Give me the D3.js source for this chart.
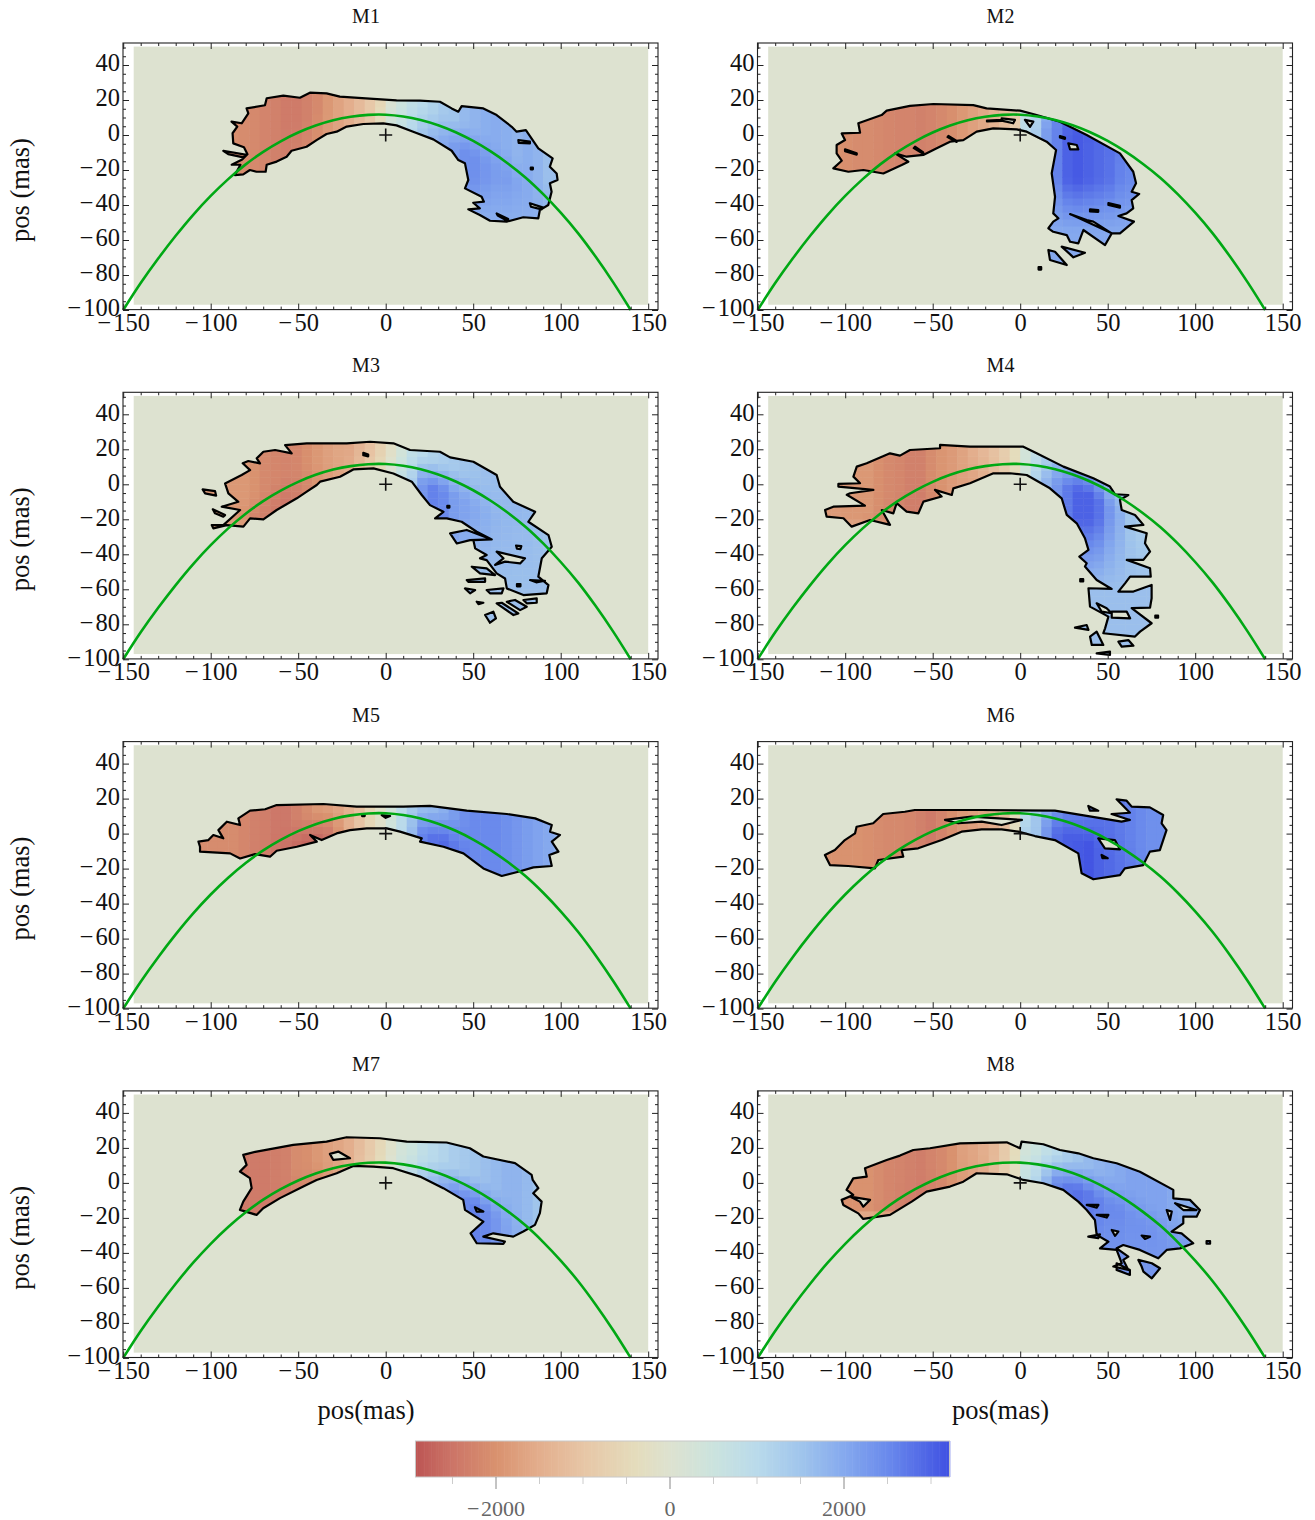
<!DOCTYPE html>
<html><head><meta charset="utf-8">
<script src="https://cdn.jsdelivr.net/npm/d3@7"></script>
<style>html,body{margin:0;padding:0;background:#fff}svg{display:block}text{font-family:"Liberation Serif",serif}</style>
</head><body><div id="chart"></div>
<script>
const PANEL_NAMES=["M1","M2","M3","M4","M5","M6","M7","M8"];
const COL_START=-114, COL_WIDTH=6;
const CURVE_X=[-150,-140,-130,-120,-110,-100,-90,-80,-70,-60,-50,-40,-30,-20,-10,0,10,20,30,40,50,60,70,80,90,100,110,120,130,140];
const CURVE_Y=[-100,-84.6,-70.6,-57.6,-45.6,-34.8,-25.2,-16.8,-9.6,-3.6,1.4,5.4,8.4,10.4,11.5,11.6,10.6,8.6,5.6,1.6,-3.4,-9.4,-16.4,-24.4,-33.8,-44.4,-56.2,-69.6,-84.2,-100];

const M1_OUTLINE=[[-88.1,7.6],[-84.8,4.8],[-87.5,1],[-87.1,-4.8],[-81,-7],[-79,-11],[-82,-14],[-88,-17],[-83,-17],[-86.2,-22.9],[-81.4,-22.5],[-77.6,-20],[-73.8,-21],[-68.6,-21],[-68,-17],[-62.3,-15.2],[-56.6,-12.4],[-53.8,-9],[-45.2,-6.7],[-39.5,-2.9],[-33.8,0.6],[-28,1.9],[-22.3,4.8],[-12.8,6.3],[-1.4,6.6],[6.2,5.5],[15.7,1.9],[27.2,-2.5],[37.7,-9],[41.5,-14.3],[45.3,-16.2],[47.2,-25.7],[45.3,-30.5],[54.8,-35.3],[56.1,-38.1],[50,-38.7],[53.8,-41.9],[47.2,-42.5],[53.8,-45.7],[59.6,-49],[69.1,-49.5],[78.6,-47],[87.2,-47.6],[88.1,-42.9],[92.9,-40],[94.8,-32.4],[93.8,-27.6],[98.2,-25.7],[97.7,-22],[93.8,-18.1],[95.4,-13.4],[87.2,-7.6],[80.1,2.8],[74.8,1.9],[72,4.7],[63.4,11.4],[55.8,15.2],[43.4,16.5],[41.5,13.3],[37.7,15.2],[31,19],[19.6,19.6],[6.2,19.8],[-7.1,20.6],[-26.2,21.9],[-33.8,23.8],[-43.3,24.2],[-49,21.3],[-58.5,22.5],[-68,21],[-69,17],[-79.5,15.2],[-78.5,12.4],[-82.3,6.7]];
const M1_HOLES=[[[-92.8,-9],[-79.5,-11.4],[-81.4,-12.8],[-90,-10.9]],[[75.8,-2.9],[82.4,-3.8],[82.4,-4.8],[76,-4.5]],[[82.4,-39],[90,-41.5],[89,-42.5],[83,-41]],[[63.4,-44.8],[70,-48],[69,-48.8],[64,-46]],[[82.9,-18.6],[84.1,-18.6],[84.1,-19.6],[82.9,-19.6]]];
const M1_UPPER=[-2000,-2000,-2000,-2000,-2050,-2100,-2150,-2250,-2300,-2400,-2400,-2300,-2150,-1900,-1700,-1500,-1250,-950,-550,100,500,800,1000,1200,1400,1500,1700,1800,1900,1950,1900,1800,1900,1800,1600];
const M1_LOWER=[-2000,-2000,-2000,-2000,-2050,-2100,-2150,-2200,-2300,-2350,-2300,-2200,-2050,-1850,-1700,-1500,-1250,-950,-300,400,700,1100,1500,1800,2000,2200,2400,2400,2300,2200,2200,2100,2000,1800,1500];

const M2_OUTLINE=[[-104.9,-5.7],[-100.1,-2.9],[-102,0.9],[-91.5,1.3],[-92.5,6.7],[-79.2,11.4],[-76.3,13.9],[-63,16.6],[-49.6,17.7],[-26.8,17.1],[-19.2,15.2],[-0.1,13.9],[9.4,11.4],[22.7,7.6],[38,0],[57,-10.5],[64.6,-21],[66.2,-27.6],[63.7,-32.4],[68,-33.7],[63.7,-37.2],[64.6,-41.9],[60.8,-44.8],[56.1,-46.3],[65,-49.5],[57,-56.2],[52.3,-56.2],[48.5,-62.9],[36.1,-54.3],[33.2,-61.9],[28.5,-61],[26.6,-57.2],[18.9,-55.3],[16.1,-53.3],[18.9,-49.5],[21.8,-47.6],[18.9,-44.8],[19.9,-35.3],[18,-21.9],[20.5,-8.6],[15.1,-3.8],[3.7,1.9],[-2,3.2],[-15.4,3.8],[-24.9,1.9],[-32.5,-2.9],[-40.1,-3.8],[-47.7,-7.6],[-55.4,-11.4],[-64.9,-12.4],[-71.5,-10.5],[-63.9,-15.3],[-67.7,-17.2],[-78.2,-22],[-89.6,-20],[-98.2,-21],[-106.8,-19.1],[-102,-14.7],[-104.9,-10.5]];
const M2_HOLES=[[[-10.6,9.5],[-3,8.6],[-4,6.7],[-10.6,8.2]],[[-19,8.3],[-10.6,8.7],[-10.6,8.1],[-19,7.8]],[[2.7,8.6],[7.5,7.6],[5.6,4.7]],[[22.7,-0.6],[25.6,-1.5],[25.6,-2.2],[22.7,-1.4]],[[27.5,-4.8],[32.3,-5.7],[33.2,-8.2],[28.5,-8.2]],[[39.9,-42.5],[44.6,-42.9],[44.6,-43.9],[39.9,-43.7]],[[50.4,-38.9],[57,-40.5],[57,-41.5],[50.4,-40]],[[28.5,-45.2],[52.3,-56.2],[41.8,-49.5],[38,-48.6]],[[23.7,-63.8],[37,-67.3],[30.4,-69.9]],[[16.1,-65.7],[19.9,-66.7],[26.6,-74.3],[17,-71.4]],[[10.5,-75.5],[12,-75.5],[12,-76.9],[10.5,-76.9]],[[-100.1,-8.2],[-93.4,-10.4],[-93.4,-11.2],[-100.1,-9.2]],[[-60.1,-6.7],[-55.4,-10],[-55.4,-10.8],[-60.8,-7.5]],[[-41,-0.5],[-36.3,-3.4],[-36.3,-4],[-41.5,-1.2]]];
const M2_UPPER=[-2000,-2000,-2050,-2100,-2100,-2150,-2200,-2250,-2250,-2300,-2250,-2150,-2050,-1900,-1750,-1600,-1400,-1200,-800,600,1000,1800,2500,2800,3000,3100,3000,2900,2800,2600,2500];
const M2_LOWER=[-2000,-2000,-2050,-2100,-2100,-2150,-2200,-2250,-2250,-2300,-2250,-2150,-2050,-1900,-1750,-1600,-1400,-1200,-800,900,1300,2200,2600,3000,3100,3000,2900,2800,2600,2500,2400];

const M3_OUTLINE=[[-91.8,0.5],[-82.3,5.3],[-77.5,8.1],[-81.7,12],[-78.5,13.3],[-71.8,12],[-73.7,14.8],[-69.9,18.6],[-63.2,19.6],[-53.7,17.7],[-57.5,22.4],[-45.1,23.4],[-22.3,23.4],[-8.9,24.3],[4.4,23.4],[13.9,19.6],[31,18.6],[36.8,15.4],[50.1,12.9],[63.4,5.3],[65.3,-1.4],[72.9,-10],[85.4,-15.7],[81.5,-21.4],[93,-29],[94.9,-35.7],[89.2,-42.3],[87.2,-52.8],[93,-57.6],[92,-62.3],[78.7,-63.3],[69.2,-59.5],[68.2,-53.8],[63.4,-50.9],[57.7,-43.3],[53.9,-42.3],[57.7,-40.4],[51.1,-36.6],[50.1,-31.9],[60.6,-31.5],[52,-27.1],[43.4,-21.4],[34.9,-19.5],[28.2,-19.5],[33,-15.7],[25.3,-11.9],[20.6,-6.1],[14.9,1.5],[4.4,6.2],[-7,9.1],[-18.5,8.5],[-26.1,4.3],[-37.5,1.5],[-39.4,-0.4],[-45.1,-4.2],[-50.8,-8],[-62.3,-14.7],[-69.9,-20],[-77.5,-19.5],[-81.3,-24.2],[-90.8,-23.3],[-98.5,-25.2],[-99.4,-23.3],[-92.8,-23.3],[-83.2,-14.7],[-93.7,-12.8],[-84.2,-10],[-89.9,-5.2]];
const M3_HOLES=[[[-104.6,-2.9],[-97.5,-3.9],[-96.9,-6.5],[-103.2,-5.2]],[[-98.8,-14.3],[-91.8,-17.6],[-92.8,-18.5],[-97.5,-16.6]],[[36.8,-28],[46.3,-26.1],[60.6,-31.5],[48.2,-31.9],[40.6,-33.8]],[[-12.8,18],[-10,17],[-10,16],[-12.8,16.6]],[[35.2,-12.3],[36.4,-12.3],[36.4,-13.3],[35.2,-13.3]],[[74.5,-35],[77.5,-35.3],[77,-37],[75,-36.8]],[[63.4,-38.5],[79.6,-42.3],[76.8,-45.2],[68.2,-44.2],[62.5,-46.1],[67.3,-42.3]],[[82.5,-54.7],[91,-55.1],[86,-56]],[[75,-57],[77,-57],[77,-58.3],[75,-58.3]],[[49.2,-47.1],[57.7,-48],[62.5,-51.9],[53.9,-50.9]],[[46.3,-54.7],[56.8,-53.8],[56.8,-55.7],[47.2,-55.7]],[[45.3,-59.5],[51.1,-60.4],[48.2,-62.3]],[[57.7,-60.4],[67.3,-59.5],[66.3,-62.3],[59.6,-62.3]],[[52,-67.1],[55.8,-67.7],[53,-68.5]],[[63.4,-68],[66.3,-67.7],[75.8,-73.8],[73,-74.7]],[[69.2,-67.1],[73.9,-66.1],[80.6,-70],[76.8,-71.9]],[[78.7,-66.1],[86.3,-65.2],[86.3,-67.7],[80.6,-68]],[[56.8,-74.7],[61.5,-72.8],[63,-76.6],[59.6,-79.1]]];
const M3_UPPER=[-1900,-1900,-1900,-1900,-1900,-1900,-2000,-2150,-2200,-2250,-2200,-2050,-1900,-1750,-1650,-1600,-1350,-1100,-700,-200,300,800,1000,1200,1300,1400,1500,1550,1600,1650,1700,1750,1700,1600,1500];
const M3_LOWER=[-1900,-1900,-1900,-1900,-2000,-2100,-2250,-2300,-2400,-2450,-2350,-2200,-2000,-1850,-1700,-1500,-1100,-700,-300,200,800,1300,2300,2600,2500,2200,2100,2000,1900,1800,1750,1700,1700,1600,1500];

const M4_OUTLINE=[[-111.5,-14.7],[-106.8,-12.8],[-88.7,-12.2],[-99.1,-6],[-97.2,-5.1],[-83.9,-3.2],[-103.9,-1.3],[-103.9,0.2],[-91.5,0.6],[-95.3,4.4],[-93.4,10.1],[-87.7,12],[-74.4,17.7],[-68.7,16.4],[-63,19.6],[-45.8,20.6],[-45.8,22.5],[-28.7,21.5],[1.8,21.5],[9.4,17.7],[24.7,10.1],[41.8,3.4],[51.3,-1.3],[54.2,-5.7],[61.8,-6.1],[57,-8.9],[58,-14.7],[65.6,-17.5],[70.4,-23.2],[59.9,-24.2],[72.3,-28],[71.3,-33.7],[74.2,-38.5],[70.4,-43.2],[60.9,-43.2],[74.2,-48],[74.6,-52.8],[62.8,-52.8],[59.9,-56.6],[56.1,-61.3],[64.7,-61.3],[75.1,-57.5],[75.1,-65.1],[74.2,-70.5],[63.7,-70.8],[75.1,-79.4],[68.5,-84.2],[65.6,-87],[47.5,-85.1],[48.5,-82.3],[50.4,-75.6],[39.9,-69.9],[39,-59.4],[52.3,-59.8],[43.7,-54.7],[37,-47],[38,-45.1],[33.8,-41.3],[39,-37.5],[37,-30.8],[32.3,-22.3],[26.6,-17.5],[23.7,-8],[17,-2.3],[3.7,5.3],[-5.8,6.3],[-15.3,6.3],[-28.7,0.6],[-38.2,-2.3],[-39.1,-6.1],[-48.7,-3.2],[-44.9,-7],[-55.3,-9.9],[-58.2,-16.6],[-64.9,-15.6],[-70.6,-10.8],[-72.5,-16.6],[-79.1,-14.7],[-74.4,-23.2],[-85.8,-20.4],[-96.3,-24.2],[-101,-19.4],[-110.6,-18.5]];
const M4_HOLES=[[[39.9,-87],[43.7,-84.2],[47.5,-91.8],[40.9,-91.8]],[[56.1,-89.9],[61.8,-89],[64.7,-92.2],[58,-92.8]],[[31.3,-81.9],[38,-80.4],[39,-83.2]],[[43.7,-96.6],[51.3,-95.6],[51.3,-97.5]],[[77.2,-75],[78.8,-75],[78.8,-76.2],[77.2,-76.2]],[[34.3,-54.2],[36,-54.2],[36,-55.5],[34.3,-55.5]],[[43.7,-68],[49.4,-70.8],[52.3,-73.7],[46.6,-72.8]],[[52.3,-72.8],[60.9,-72.8],[62.8,-76.6],[52.3,-76.2]]];
const M4_UPPER=[-1850,-1850,-1900,-1900,-1900,-2050,-2150,-2200,-2300,-2300,-2100,-1950,-1850,-1700,-1500,-1300,-1100,-800,-400,300,800,1200,1500,1700,1900,2000,1800,1500,1400,1300,1200,1200,1200];
const M4_LOWER=[-1900,-1900,-2000,-2000,-2100,-2150,-2200,-2250,-2350,-2350,-2150,-2000,-1850,-1750,-1700,-1500,-1200,-900,-400,400,1200,1800,2300,2700,3000,3000,2800,2300,1900,1500,1300,1200,1200];

const M5_OUTLINE=[[-107,-4.6],[-101.3,-3.7],[-98.5,-0.8],[-92.8,-2.7],[-95.6,2],[-90.8,6.8],[-83.2,4.9],[-84.2,8.7],[-77.5,13.1],[-68.9,13.9],[-62.3,16.3],[-35.6,16.9],[-16.6,15.4],[10.1,15.4],[25.3,15.8],[46.3,13.1],[69.2,11.2],[85.4,8.7],[94.9,4.9],[93.9,1.1],[99.6,-0.8],[94.9,-4.6],[98.7,-10.3],[93.5,-12.2],[94.9,-18.5],[84.4,-19.3],[75.8,-21.8],[66.3,-24.2],[55.8,-19.9],[44.4,-11.3],[33,-7.5],[19.6,-4.6],[20.6,-2.7],[8.2,1.1],[0.6,3],[-10.8,3],[-20.4,2],[-28,0.1],[-36.6,-3.7],[-43.2,-0.8],[-39.4,-4.6],[-50.8,-7.5],[-62.3,-9.8],[-66.1,-13.2],[-74.7,-11.7],[-83.2,-14.2],[-88.9,-11.3],[-106.1,-10.3],[-106.1,-7.5]];
const M5_HOLES=[[[-2.3,10.6],[2.5,10],[0,9]],[[-13.5,11],[-12,11],[-12,10],[-13.5,10]]];
const M5_UPPER=[-2100,-2100,-2100,-2100,-2100,-2200,-2300,-2350,-2450,-2450,-2300,-2100,-1900,-1750,-1600,-1400,-1200,-700,-200,300,900,1300,1500,1700,1900,2200,2400,2500,2500,2500,2400,2300,2200,2100,2000,1800];
const M5_LOWER=[-2150,-2150,-2150,-2150,-2150,-2350,-2350,-2350,-2500,-2550,-2650,-2700,-2650,-2500,-2000,-1500,-1000,-500,-100,400,1000,1700,2600,2800,2900,2700,2600,2500,2500,2500,2400,2300,2200,2100,2000,1800];

const M6_OUTLINE=[[-111.6,-12.2],[-105.9,-9.4],[-100.2,-3.7],[-94.4,0.1],[-93.5,3.9],[-84,5.9],[-78.3,11.2],[-65.9,12.5],[-60.2,13.5],[-22,13.5],[19.8,13.1],[38.9,10],[57.9,6.8],[62.7,7.8],[52.2,11.2],[62.7,11.9],[55.1,19.6],[60.8,18.8],[63.7,15.4],[74.1,15],[81.7,10.6],[80.8,5.9],[83.6,2],[79.8,-9.4],[74.1,-10.3],[70.3,-18],[59.8,-19.9],[57,-23.7],[41.8,-26.1],[35.1,-22.7],[33.2,-11.3],[19.8,-3.7],[8.4,-1.4],[-1.1,1.1],[-10.6,2.4],[-22,2.4],[-33.5,1.1],[-44.9,-3.7],[-58.3,-8.4],[-67.8,-9.4],[-66.8,-13.2],[-81.1,-15.1],[-83,-19.9],[-98.3,-18.5],[-108.7,-18]];
const M6_HOLES=[[[-43,7.8],[-27.8,9.7],[1,7.8],[-10.6,4.9],[-22,6.8],[-35.4,5.9]],[[44.6,-2.7],[54.1,-3.7],[57,-9],[48.4,-8.4]],[[46.5,-12.2],[50,-14.1],[47,-14]],[[38.9,15.8],[44.6,13.1],[39.8,13.1]]];
const M6_UPPER=[-2000,-2000,-2000,-2000,-2050,-2100,-2150,-2150,-2200,-2300,-2400,-2250,-2050,-1850,-1750,-1650,-1500,-1200,-600,600,1400,1800,2200,2500,2600,2700,2800,2800,2700,2600,2500,2400,2400];
const M6_LOWER=[-2000,-2000,-2000,-2000,-2050,-2100,-2150,-2150,-2200,-2300,-2400,-2250,-2050,-1850,-1750,-1650,-1500,-1200,-300,1200,1500,2300,2900,3050,3100,3150,3000,2900,2800,2700,2600,2500,2400];

const M7_OUTLINE=[[-81.4,16],[-73.8,17.9],[-52.8,21.7],[-33.8,23.6],[-22.3,26.1],[-3.3,25.5],[12,23.6],[34.8,23.1],[48.1,19.8],[55.8,15.1],[73.9,11.3],[83.4,4.6],[84,1.7],[87.2,-3],[84.3,-5.9],[89.1,-10.7],[88.1,-17.3],[85.3,-24],[78.6,-27.8],[72.9,-30.7],[61.5,-28.8],[55.8,-30.7],[68.1,-33.5],[67.2,-34.8],[52,-34.5],[48.5,-28.8],[55.8,-22.1],[45.3,-15.4],[44.3,-9.7],[32.9,-3],[19.6,3.6],[4.3,8.4],[-7.1,9.3],[-18.5,9.7],[-28,5.5],[-39.5,1.7],[-47.1,-2.1],[-60.4,-8.7],[-70,-14.5],[-73.8,-18.3],[-83.3,-15.4],[-81.4,-10.7],[-76.6,-3],[-77.6,2.7],[-83.3,6.5],[-79.5,10.3]];
const M7_HOLES=[[[-31.9,16.6],[-27.1,17.9],[-20.4,14.1],[-30,13.2]],[[51,-13.9],[55.8,-16.4],[52,-16.4]]];
const M7_UPPER=[-2400,-2400,-2400,-2400,-2400,-2400,-2400,-2400,-2350,-2300,-2100,-2050,-1900,-1750,-1650,-1500,-1200,-900,-500,-100,300,500,800,1000,1150,1300,1400,1500,1600,1700,1800,1800,1700,1500,1400];
const M7_LOWER=[-2400,-2400,-2400,-2400,-2400,-2400,-2400,-2400,-2400,-2350,-2300,-2200,-2100,-1900,-1700,-1500,-1000,-700,-300,200,600,1000,1500,1800,2100,2400,2500,2600,2500,2300,2100,1900,1700,1500,1400];

const M8_OUTLINE=[[-102,-9.7],[-95.4,-6.9],[-99.2,-4],[-95.4,2.6],[-87.7,3.6],[-88.7,8.4],[-76.3,13.1],[-68.7,15.6],[-61.1,18.8],[-51.6,19.8],[-34.4,22.6],[-7.7,23.2],[-0.1,19.8],[0.8,23.6],[13.2,22.1],[22.7,18.8],[33.2,16.9],[41.8,14.1],[55.1,11.2],[68.4,6.4],[87.5,-4],[87.5,-8.8],[97,-9.7],[102.7,-15.5],[100.8,-19.3],[93.2,-19.3],[93.2,-23.1],[86.5,-27.9],[92.2,-28.8],[98.9,-34.5],[91.3,-37.4],[83.7,-38.3],[78.9,-43.1],[68.4,-38.3],[58.9,-35.5],[55.1,-37.4],[61.8,-42.1],[58.9,-44],[61.8,-49.7],[53.2,-47.8],[58,-45.9],[55.1,-38.3],[45.6,-37.4],[50.4,-33.6],[43.7,-29.7],[42.7,-21.2],[38,-15.5],[33.2,-10.7],[24.6,-4],[13.2,-0.2],[1.8,1.7],[-7.7,4.9],[-24.9,5.5],[-32.5,0.7],[-40.1,-2.1],[-53.5,-5],[-62,-10.7],[-74.4,-18.3],[-89.7,-20.6],[-92.5,-17.4],[-101.1,-12.6]];
const M8_HOLES=[[[-97.3,-7.8],[-85.8,-9.7],[-89.7,-13.6],[-91.6,-10.7]],[[83.7,-15.5],[86.6,-16.4],[85.6,-21.2]],[[88.5,-11.6],[100.8,-15.5],[93.2,-15.5]],[[106.5,-33.2],[108.5,-33.2],[108.5,-34.7],[106.5,-34.7]],[[52.3,-26.9],[56.1,-27.8],[54.2,-30.3]],[[69.4,-30.1],[74.2,-30.7],[71.3,-32]],[[38.9,-30.7],[45.6,-29.4],[44.6,-31.6]],[[38,-12.6],[44.7,-12.6],[43.7,-14.1]],[[43.7,-18.3],[50.4,-18.3],[49.4,-19.8]],[[67.5,-44],[75.2,-45.9],[79.9,-48.8],[75.2,-54.5],[70.4,-50.7],[69.4,-47.8]],[[55.1,-45.9],[62.7,-49.7],[62.7,-52.6],[55.1,-49.7]]];
const M8_UPPER=[-2000,-2000,-2000,-2000,-2000,-2100,-2200,-2250,-2300,-2350,-2250,-2150,-2000,-1750,-1650,-1500,-1300,-900,-400,300,500,800,1000,1300,1500,1700,1800,1900,2000,2100,2100,2100,2100,2000,1900,1900,1900,1900];
const M8_LOWER=[-2100,-2100,-2100,-2100,-2100,-2150,-2200,-2300,-2350,-2400,-2300,-2200,-2000,-1850,-1700,-1600,-1200,-800,-300,700,1100,1800,2500,2700,2800,2700,2600,2500,2500,2400,2400,2400,2300,2200,2100,2000,2000,2000];

const OUTLINES=[M1_OUTLINE,M2_OUTLINE,M3_OUTLINE,M4_OUTLINE,M5_OUTLINE,M6_OUTLINE,M7_OUTLINE,M8_OUTLINE];
const HOLES=[M1_HOLES,M2_HOLES,M3_HOLES,M4_HOLES,M5_HOLES,M6_HOLES,M7_HOLES,M8_HOLES];
const UPPERS=[M1_UPPER,M2_UPPER,M3_UPPER,M4_UPPER,M5_UPPER,M6_UPPER,M7_UPPER,M8_UPPER];
const LOWERS=[M1_LOWER,M2_LOWER,M3_LOWER,M4_LOWER,M5_LOWER,M6_LOWER,M7_LOWER,M8_LOWER];
const TAIL_START=[-25,-25,-20,-20,-999,-999,-999,-15];
const TAIL_END=[-48,-55,-55,-60,-1000,-1000,-1000,-45];
const TAIL_VALUE=[1900,2000,1600,1600,0,0,0,2300];

const X_MAJOR=[-150,-100,-50,0,50,100,150];
const Y_MAJOR=[-100,-80,-60,-40,-20,0,20,40];
const BAR_MAJOR=[-2000,0,2000];
const BAR_MINOR=[-2500,-1500,-1000,-500,500,1000,1500,2500,3000];
const COLOR_STOPS=[-2920,-2500,-2000,-1500,-1000,-400,0,500,1000,1500,2000,2500,3218];
const COLOR_VALUES=["#bd5654","#cc7568","#d9926f","#e3ae8d","#e7c6a6","#e4dcbc","#dde2d0","#cbe3de","#b9daeb","#a0c5ec","#85a9ee","#6a8aec","#3f50e2"];

const color=d3.scaleLinear().domain(COLOR_STOPS).range(COLOR_VALUES).clamp(true);
const curveAt=d3.scaleLinear().domain(CURVE_X).range(CURVE_Y);
const minusFmt=d=>d<0?"\u2212\u200A"+Math.abs(d):String(d);
const clamp01=t=>Math.max(0,Math.min(1,t));

const svg=d3.select("#chart").append("svg").attr("width",1315).attr("height",1520);
const defs=svg.append("defs");
const COL_STEP=634.5, ROW_STEP=349.3, CELL_H=4;

PANEL_NAMES.forEach((name,i)=>{
  const c=i%2, r=Math.floor(i/2), dx=c*COL_STEP, dy=r*ROW_STEP;
  const x=d3.scaleLinear().domain([-150,150]).range([123.2+dx,648.2+dx]);
  const y=d3.scaleLinear().domain([-100,50]).range([310+dy,47.5+dy]);
  const frame={l:123+dx,r:658+dx,t:43+dy,b:309.6+dy};
  const g=svg.append("g");

  g.append("rect").attr("x",x(-144)).attr("y",y(50.5)).attr("width",x(150)-x(-144)).attr("height",y(-97)-y(50.5)).attr("fill","#dde2d0");

  const line=d3.line().x(p=>x(p[0])).y(p=>y(p[1]));
  const loops=[OUTLINES[i],...HOLES[i]];
  const pathD=loops.map(l=>line(l)+"Z").join("");
  defs.append("clipPath").attr("id","clip"+i).append("path").attr("d",pathD).attr("clip-rule","evenodd");

  const cells=[];
  const up=UPPERS[i], lo=LOWERS[i];
  const pick=(arr,k)=>arr[Math.min(k,arr.length-1)];
  d3.range(38).forEach(k=>{
    const cx=COL_START+k*COL_WIDTH;
    d3.range(-104,30,CELL_H).forEach(ry=>{
      const mid=ry+CELL_H/2;
      const w=clamp01((mid-curveAt(cx+3)+8)/16);
      let v=pick(lo,k)+(pick(up,k)-pick(lo,k))*w;
      const t=clamp01((TAIL_START[i]-mid)/(TAIL_START[i]-TAIL_END[i]));
      if(TAIL_VALUE[i]) v=v+(TAIL_VALUE[i]-v)*t;
      cells.push({x:cx,y:ry,v});
    });
  });
  g.append("g").attr("clip-path","url(#clip"+i+")").selectAll("rect").data(cells).join("rect")
    .attr("x",d=>x(d.x)).attr("y",d=>y(d.y+CELL_H))
    .attr("width",x(COL_WIDTH)-x(0)+0.5).attr("height",y(0)-y(CELL_H)+0.5)
    .attr("fill",d=>color(d.v));

  g.append("path").attr("d",pathD).attr("fill","none").attr("stroke","#000").attr("stroke-width",2.2).attr("stroke-linejoin","round");

  const curve=d3.line().x(d=>x(d)).y((d,j)=>y(CURVE_Y[j])).curve(d3.curveCatmullRom);
  g.append("path").attr("d",curve(CURVE_X)).attr("fill","none").attr("stroke","#00a814").attr("stroke-width",2.6);

  g.append("path").attr("d",`M${x(0)-6.5},${y(0)}H${x(0)+6.5}M${x(0)},${y(0)-6.5}V${y(0)+6.5}`).attr("stroke","#111").attr("stroke-width",1.6).attr("fill","none");

  const xMinor=d3.range(-150,151,10).filter(v=>!X_MAJOR.includes(v));
  const yMinor=d3.range(-100,51,5).filter(v=>!Y_MAJOR.includes(v));
  const style=s=>{s.select(".domain").remove();s.selectAll("line").attr("stroke","#222").attr("stroke-width",1);
    s.selectAll("text").attr("fill","#111").style("font-family",'"Liberation Serif",serif').style("font-size","24.5px");};
  const put=(gen,tx,ty,label,shift)=>{
    const a=g.append("g").attr("transform",`translate(${tx},${ty})`).call(gen);
    style(a); if(!label)a.selectAll("text").remove(); else if(shift)a.selectAll("text").attr("dy",shift);
  };
  put(d3.axisBottom(x).tickValues(X_MAJOR).tickSize(-6).tickPadding(4).tickFormat(minusFmt),0,frame.b,true);
  put(d3.axisBottom(x).tickValues(xMinor).tickSize(-3).tickFormat(""),0,frame.b,false);
  put(d3.axisTop(x).tickValues(X_MAJOR).tickSize(-6).tickFormat(""),0,frame.t,false);
  put(d3.axisTop(x).tickValues(xMinor).tickSize(-3).tickFormat(""),0,frame.t,false);
  put(d3.axisLeft(y).tickValues(Y_MAJOR).tickSize(-6).tickPadding(3).tickFormat(minusFmt),frame.l,0,true,"0.24em");
  put(d3.axisLeft(y).tickValues(yMinor).tickSize(-3).tickFormat(""),frame.l,0,false);
  put(d3.axisRight(y).tickValues(Y_MAJOR).tickSize(-6).tickFormat(""),frame.r,0,false);
  put(d3.axisRight(y).tickValues(yMinor).tickSize(-3).tickFormat(""),frame.r,0,false);
  g.append("rect").attr("x",frame.l).attr("y",frame.t).attr("width",frame.r-frame.l).attr("height",frame.b-frame.t).attr("fill","none").attr("stroke","#222").attr("stroke-width",1.1);

  g.append("text").attr("x",366+dx).attr("y",23+dy).attr("text-anchor","middle").style("font-size","20px").attr("fill","#111").text(name);
  if(c===0){
    g.append("text").attr("transform",`translate(29,${190+dy}) rotate(-90)`).attr("text-anchor","middle").style("font-size","26.5px").attr("fill","#111").text("pos (mas)");
  }
  if(r===3){
    g.append("text").attr("x",366+dx).attr("y",1419).attr("text-anchor","middle").style("font-size","26.5px").attr("fill","#111").text("pos(mas)");
  }
});

// colour bar
const barX=d3.scaleLinear().domain([0,2000]).range([669.5,843.5]);
const barG=svg.append("g");
const barVals=d3.range(-2920,3218,20);
barG.selectAll("rect").data(barVals).join("rect").attr("x",d=>barX(d)).attr("y",1441)
  .attr("width",barX(20)-barX(0)+0.6).attr("height",36).attr("fill",d=>color(d));
barG.append("rect").attr("x",barX(-2920)).attr("y",1441).attr("width",barX(3218)-barX(-2920)).attr("height",36)
  .attr("fill","none").attr("stroke","#c8c8c8").attr("stroke-width",1);
const bar1=barG.append("g").attr("transform","translate(0,1477)").call(d3.axisBottom(barX).tickValues(BAR_MAJOR).tickSize(12).tickPadding(11).tickFormat(minusFmt));
bar1.select(".domain").remove();
bar1.selectAll("line").attr("stroke","#888");
bar1.selectAll("text").attr("fill","#666").style("font-family",'"Liberation Serif",serif').style("font-size","22px");
const bar2=barG.append("g").attr("transform","translate(0,1477)").call(d3.axisBottom(barX).tickValues(BAR_MINOR).tickSize(7).tickFormat(""));
bar2.select(".domain").remove();
bar2.selectAll("line").attr("stroke","#ccc");
</script></body></html>
